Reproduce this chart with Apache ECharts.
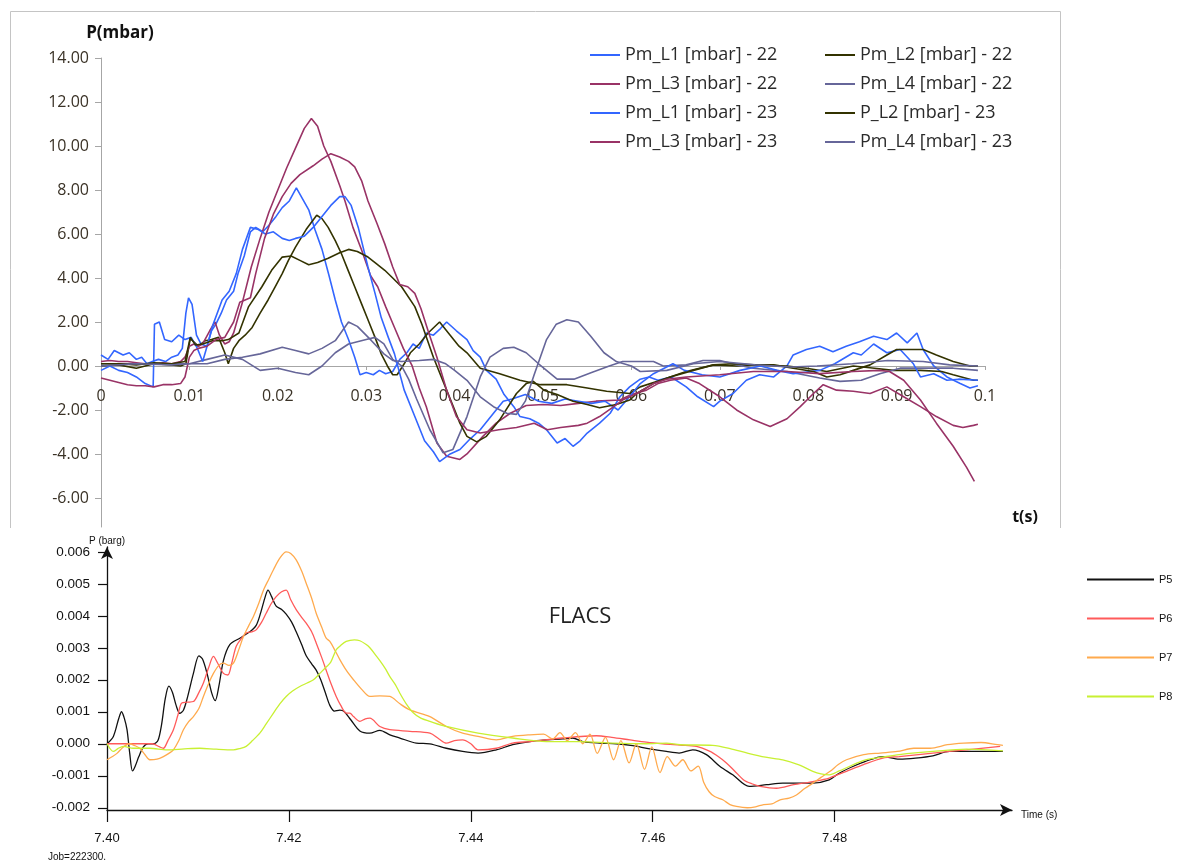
<!DOCTYPE html>
<html>
<head>
<meta charset="utf-8">
<title>Pm_L pressure vs FLACS</title>
<script src="https://cdn.jsdelivr.net/npm/echarts@6/dist/echarts.min.js"></script>
<style>
  html, body { margin: 0; padding: 0; background: #fff; }
  #main { width: 1180px; height: 863px; }
</style>
</head>
<body>
<div id="main"></div>
<script>
    // top chart: measured pressure, [t in ms, p in mbar]
    var topXTicks = [0, 0.01, 0.02, 0.03, 0.04, 0.05, 0.06, 0.07, 0.08, 0.09, 0.1];
    var topYTicks = [-6, -4, -2, 0, 2, 4, 6, 8, 10, 12, 14];

    var L1_22 = [[0,0.5],[0.8,0.3],[1.5,0.7],[2.5,0.5],[3.2,0.6],[4,0.3],[4.6,0.4],[5.2,0.1],[5.8,0.2],[6.5,0.3],[7.3,0.2],[8,0.4],[8.7,0.5],[9.2,0.8],[9.6,2.4],[9.9,3.1],[10.3,2.8],[10.8,1.4],[11.3,1.0],[12,0.9],[12.5,1.6],[13,1.9],[13.6,2.4],[14.2,3.0],[15,3.4],[15.5,4.2],[16.2,5.0],[16.9,6.1],[17.5,6.3],[18.3,6.1],[19,6.4],[19.8,6.8],[20.5,7.2],[21.3,7.5],[22.1,8.1],[22.8,7.6],[23.5,7.1],[24.2,6.2],[25,5.3],[25.8,4.1],[26.5,3.0],[27.2,2.0],[28,1.2],[28.7,0.4],[29.3,-0.4],[30,-0.3],[30.8,-0.4],[31.5,-0.2],[32.2,-0.35],[33,-0.25],[33.8,0.3],[34.6,0.6],[35.3,1.0],[36,0.8],[36.8,1.5],[37.6,1.4],[38.4,1.7],[39.1,2.0],[40.2,1.6],[41.4,1.2],[42.1,0.7],[42.9,0.4],[43.6,-0.2],[44.7,-0.6],[45.6,-1.3],[46.7,-1.85],[47.4,-2.3],[48.5,-2.4],[49.5,-2.6],[50.4,-2.9],[51.6,-3.5],[52.5,-3.3],[53.4,-3.65],[54.2,-3.4],[55,-3.05],[56.4,-2.6],[57.6,-2.15],[58.7,-1.4],[59.8,-0.95],[61,-0.6],[62,-0.5],[63,-0.65],[64.5,-0.5],[66.2,-0.95],[67.5,-1.4],[69.3,-1.85],[70,-1.6],[71.5,-1.25],[73,-0.65],[74.5,-0.4],[76.1,-0.5],[77.6,0],[78.3,0.5],[79.8,0.75],[81.3,0.9],[82.8,0.65],[84.3,0.9],[85.8,1.1],[87.4,1.35],[88.9,1.2],[90,1.5],[91.2,1.05],[92.3,1.5],[93,0.75],[94.2,0],[95.7,-0.5],[97.2,-0.8],[98.3,-1.0],[99.2,-0.9]];
    var L2_22 = [[0,0],[2,0.05],[4,-0.1],[6,0.1],[8,0.05],[9,0],[9.6,0.1],[10.1,1.25],[11,0.9],[11.8,1.15],[12.5,1.2],[13.3,1.3],[14,0.6],[14.4,0.1],[15,0.8],[15.6,1.15],[16.3,1.4],[17.1,1.75],[18,2.4],[18.9,3.0],[19.7,3.6],[20.5,4.2],[21.2,4.8],[22,5.4],[23.2,6.2],[24.4,6.85],[25,6.7],[25.7,6.3],[26.5,5.7],[27.2,5.1],[28,4.3],[28.7,3.6],[29.5,2.8],[30.2,2.1],[31,1.3],[31.7,0.55],[32.4,0],[33,-0.4],[33.5,-0.4],[34.3,0.1],[35,0.6],[36,1.0],[37,1.5],[38.3,2.0],[39.5,1.4],[40.5,0.9],[41.4,0.6],[42.9,-0.1],[45.1,-0.35],[47.4,-0.65],[49.7,-0.85],[52.7,-0.85],[55,-1.0],[57.2,-1.15],[59.8,-1.25],[61,-0.95],[63.3,-0.65],[66.2,-0.25],[69.3,0.05],[71.9,0],[74,0.05],[77.6,0],[79.8,-0.1],[82.1,-0.25],[85.1,0],[87.5,-0.1],[89.6,-0.2],[92.7,-0.2],[95.1,-0.25],[96.4,-0.4],[98.7,-0.65],[99.2,-0.65]];
    var L3_22 = [[0,0.2],[1,0.25],[2,0.2],[3,0.2],[4,0.15],[5,0.1],[6,0.1],[7,0.15],[8,0.1],[9,0.2],[9.5,0.4],[10,0.9],[10.5,1.0],[11,0.9],[11.5,1.0],[12.3,1.6],[12.9,2.0],[13.4,1.4],[14,1.0],[14.5,1.1],[15,1.5],[16,2.9],[17,4.5],[18,5.8],[19,7.0],[20,8.0],[21,9.0],[22,9.9],[23,10.8],[23.8,11.25],[24.5,10.9],[25.2,10.0],[26,9.3],[27,8.2],[27.6,7.5],[28.5,6.3],[29.5,5.25],[30.5,4.1],[31.3,3.6],[32.2,2.7],[33.2,1.75],[34.2,0.8],[35.2,0],[36,-1.0],[36.8,-1.85],[38,-3.5],[39.1,-4.1],[40.6,-4.25],[41.4,-4.0],[43.2,-3.2],[44.7,-2.6],[46.3,-2.15],[48.1,-1.8],[50,-1.75],[52,-1.8],[54,-1.7],[56,-1.6],[58.7,-1.55],[60,-1.3],[61.7,-1.1],[63,-0.8],[64.4,-0.65],[66.2,-0.55],[67.7,-0.8],[70,-1.4],[71.9,-2.0],[73.8,-2.45],[75.7,-2.75],[77.6,-2.4],[79.1,-1.85],[80.6,-1.25],[81.7,-0.85],[83.2,-1.1],[85.1,-1.15],[87,-1.25],[88.9,-0.95],[90.8,-1.4],[92.7,-1.85],[94.5,-2.3],[96.4,-2.7],[97.5,-2.8],[98.7,-2.7],[99.2,-2.65]];
    var L4_22 = [[0,0.1],[4,0.1],[8,0.1],[10,0.1],[12,0.3],[14,0.5],[16,0.3],[18,-0.2],[20,-0.1],[22,-0.3],[23.5,-0.4],[25,0],[26.5,0.6],[28,1.0],[30,1.2],[31,1.3],[32,1.0],[33,0.3],[34,0],[34.8,-0.6],[35.7,-1.5],[37.2,-2.9],[38.7,-3.95],[39.8,-3.8],[41.4,-2.3],[42.9,-0.5],[44,0.4],[45.5,0.8],[46.7,0.85],[48.1,0.6],[49.5,0.1],[51.6,-0.6],[53.5,-0.6],[55.5,-0.3],[57.5,0],[59,0.2],[62.5,0.2],[63.6,0],[66.2,0.05],[68.1,0.25],[70,0.25],[72,0.05],[73.8,-0.1],[77.6,-0.25],[81.3,-0.55],[83.6,-0.7],[86,-0.65],[88.1,-0.35],[90.4,-0.1],[93,-0.1],[96.4,-0.1],[99.2,-0.2]];
    var L1_23 = [[0,-0.2],[1,0],[2,-0.2],[3,-0.3],[4,-0.5],[5,-0.8],[5.9,-0.95],[6.05,1.9],[6.6,2.0],[7.2,1.2],[8,1.1],[8.8,1.4],[9.5,1.2],[10.2,1.3],[10.9,0.8],[11.5,0.2],[12,0.9],[12.6,1.8],[13.7,3.0],[14.5,3.4],[15.3,4.2],[16,5.3],[16.9,6.3],[17.8,6.2],[18.6,6.0],[19.5,6.1],[20.5,5.8],[21.3,5.7],[22,5.8],[23,5.9],[24,6.3],[25,6.8],[26,7.3],[27,7.7],[27.6,7.7],[28.3,7.3],[29.1,6.3],[30.2,4.5],[31,3.3],[31.7,2.2],[32.5,1.3],[33.2,0.55],[34.3,-1.1],[35.5,-2.3],[36.6,-3.4],[37.6,-3.9],[38.3,-4.35],[39.5,-4.0],[40.6,-3.8],[41.8,-3.3],[42.9,-2.9],[44.4,-2.15],[45.5,-1.6],[46.5,-1.5],[48,-1.3],[49.5,-1.6],[51,-1.7],[52.5,-1.5],[54,-1.6],[55.5,-1.7],[57,-1.6],[58.5,-2.0],[60,-1.3],[61,-0.8],[62.5,-0.35],[64.7,0.1],[66,-0.2],[68,-0.4],[70,-0.5],[72.3,-0.2],[74.6,0],[76.5,-0.2],[78.3,-0.35],[81.3,-0.2],[83,0.1],[85.1,0.6],[86,0.5],[87.4,1.0],[88.9,0.6],[90.4,0.75],[91.9,0.1],[92.7,-0.5],[94.2,-0.35],[95.7,-0.65],[97,-0.6],[99.2,-0.65]];
    var L2_23 = [[0,0.1],[2,0.1],[4,0.05],[6,0.15],[8,0.1],[9.5,0.2],[10.1,1.3],[10.7,0.95],[11.5,1.0],[12.6,1.15],[13.7,1.15],[14.4,1.2],[15.6,1.5],[16.7,2.7],[18.2,3.6],[19.3,4.35],[20.5,4.95],[21.5,5.0],[22.5,4.8],[23.5,4.6],[24.5,4.7],[25.7,4.9],[27,5.15],[28,5.3],[29,5.2],[30.2,4.95],[31,4.7],[32.1,4.35],[33,4.0],[34,3.6],[35.5,2.7],[36.3,1.9],[37.6,0.4],[39.1,-1.1],[40.6,-2.6],[41.4,-3.2],[42.5,-3.45],[43.6,-3.2],[45.1,-2.45],[47,-1.25],[48.1,-0.8],[48.9,-0.7],[50.1,-1.1],[51.6,-1.3],[53.4,-1.6],[55,-1.75],[56.4,-1.9],[58.3,-1.75],[59.8,-1.55],[60.6,-1.25],[62.5,-0.8],[64.4,-0.5],[67,-0.2],[69.3,0.05],[71.5,0.1],[73.8,0.05],[76.1,0.05],[78.3,-0.1],[80.6,-0.25],[82.1,-0.5],[83.6,-0.4],[85.1,-0.2],[87,0.05],[88.9,0.5],[90,0.75],[91.5,0.75],[93,0.75],[94.5,0.5],[96.4,0.2],[98.3,0],[99.2,0]];
    var L3_23 = [[0,-0.55],[1,-0.65],[2,-0.75],[3,-0.85],[4,-0.9],[5,-0.9],[6,-0.95],[7,-0.85],[8,-0.85],[9,-0.8],[9.5,-0.5],[10,0.4],[10.5,0.7],[11,0.8],[12,0.9],[13,1.2],[14,1.3],[15,2.0],[15.7,2.9],[16.3,3.0],[16.9,3.1],[17.5,4.2],[18.5,5.8],[19.5,6.9],[20.5,7.7],[21.5,8.3],[22.5,8.7],[24,9.1],[25,9.4],[26,9.65],[27,9.5],[28,9.3],[28.7,9.05],[29.5,8.4],[30.2,7.5],[31.2,6.5],[32.1,5.55],[33,4.5],[33.8,3.7],[34.7,3.6],[35.5,3.3],[36.2,2.6],[37,1.6],[38,0.4],[39.1,-1.1],[40.2,-2.3],[41.4,-2.9],[42.9,-3.05],[45,-2.9],[47,-2.8],[49,-2.6],[50.5,-2.9],[52,-2.8],[54,-2.7],[55,-2.6],[56.4,-2.3],[58,-1.85],[59,-1.55],[60.6,-1.25],[62.5,-0.8],[64,-0.6],[66.2,-0.5],[70,-0.4],[73.8,-0.25],[77.6,-0.25],[81.3,-0.35],[85.1,-0.25],[88.1,-0.2],[89.2,-0.25],[90.8,-0.65],[92.7,-1.55],[94.5,-2.6],[96.4,-3.65],[97.9,-4.6],[98.8,-5.25]];
    var L4_23 = [[0,0],[4,0.1],[8,0.05],[10,0.1],[12,0.1],[14,0.3],[16,0.4],[18,0.55],[20.5,0.85],[22,0.7],[23.5,0.55],[25,0.8],[26.5,1.15],[28,2.0],[29,1.8],[30.6,1.15],[32,0.55],[33,0.25],[34,0.2],[36,0.25],[37.6,0.3],[39,0.1],[40,-0.2],[41.4,-0.65],[42.9,-1.4],[44.4,-1.85],[45.9,-2.15],[47,-2.2],[48,-1.6],[49,-0.4],[50.4,1.2],[51.5,1.9],[52.7,2.1],[54,2.0],[55.4,1.35],[56.9,0.6],[58.3,0.2],[60,0],[61,-0.25],[64,-0.2],[67,0.1],[70,0.2],[74,0.05],[78,-0.05],[81,0],[85,0.1],[89,0.25],[93,0.2],[96,0.05],[99.2,0]];

    // bottom chart: FLACS, [ms after 7.40 s, p in 0.001 barg]
    var flacsT0 = 7.40;
    var flacsXTicks = [7.40, 7.42, 7.44, 7.46, 7.48];
    var flacsYTicks = [-0.002, -0.001, 0, 0.001, 0.002, 0.003, 0.004, 0.005, 0.006];

    var P5 = [[0,0],[0.7,0.23],[1.3,0.8],[1.6,1.0],[1.9,0.8],[2.2,0.44],[2.5,-0.3],[2.8,-0.85],[3.1,-0.7],[3.5,-0.4],[4,-0.1],[4.5,0],[5.1,0],[5.6,0.1],[6,0.6],[6.4,1.4],[6.8,1.8],[7.2,1.6],[7.6,1.2],[8,0.95],[8.4,1.05],[8.8,1.4],[9.5,2.2],[10.1,2.75],[10.5,2.65],[11,2.2],[11.5,1.6],[11.9,1.35],[12.3,1.8],[12.8,2.6],[13.5,3.1],[14.6,3.3],[15.7,3.5],[16.4,3.7],[16.9,4.1],[17.4,4.6],[17.7,4.8],[18.1,4.6],[18.6,4.3],[19.2,4.2],[19.7,4.05],[20.3,3.8],[20.8,3.5],[21.4,3.1],[21.9,2.75],[22.5,2.5],[23,2.3],[23.5,2.0],[24,1.6],[24.5,1.2],[25,1.02],[25.6,1.05],[26.1,1.0],[26.8,0.75],[27.8,0.4],[28.9,0.33],[30,0.42],[31.1,0.28],[32.2,0.18],[34,0.02],[35.5,0],[37.3,-0.14],[39.1,-0.24],[40.8,-0.29],[42.8,-0.19],[44.6,-0.03],[46.5,0.07],[48.3,0.12],[50.1,0.15],[51.2,0.18],[52.3,0.07],[54.2,0.02],[56,0],[57.8,-0.06],[59.5,-0.15],[61.5,-0.24],[62.9,-0.29],[64.4,-0.19],[65.9,-0.34],[67.4,-0.71],[68.8,-0.97],[70.6,-1.33],[72.5,-1.28],[74.3,-1.23],[76.1,-1.23],[77.6,-1.23],[79.4,-1.13],[80.5,-0.92],[82,-0.71],[83.4,-0.55],[85.3,-0.4],[87.1,-0.48],[88.9,-0.45],[90.8,-0.38],[92.6,-0.24],[94.5,-0.24],[96.3,-0.24],[98.5,-0.24]];
    var P6 = [[0,0],[2,0],[4,0],[5,0],[5.8,-0.1],[6.2,-0.14],[6.7,0.1],[7.3,0.44],[7.8,0.9],[8.2,1.27],[8.8,1.3],[9.5,1.32],[10.1,1.6],[10.6,1.9],[11.2,2.4],[11.7,2.73],[12.2,2.5],[12.8,2.2],[13.3,2.15],[13.7,2.5],[14.2,3.04],[14.8,3.3],[15.3,3.46],[15.9,3.5],[16.4,3.56],[17,3.8],[17.5,4.08],[18.1,4.4],[18.6,4.6],[19.2,4.75],[19.7,4.8],[20.2,4.5],[20.8,4.19],[21.4,3.95],[21.9,3.77],[22.5,3.5],[23,3.15],[23.6,2.7],[24.1,2.3],[24.6,1.9],[25.2,1.48],[25.7,1.2],[26.3,0.96],[26.7,0.96],[27.1,0.85],[27.8,0.7],[28.4,0.78],[28.9,0.8],[30,0.54],[31.1,0.44],[33.3,0.39],[35.5,0.33],[36.5,0.15],[37.3,0.02],[38.2,0.1],[39.1,0.12],[40,0],[40.8,-0.19],[42.8,-0.14],[44.6,0.02],[46.5,0.07],[50.1,0.18],[53.8,0.25],[55.5,0.2],[57.5,0.12],[59.3,0.05],[61.1,0],[63,-0.04],[64.8,-0.08],[66.3,-0.24],[67.2,-0.4],[68.1,-0.6],[69,-0.85],[70,-1.13],[70.9,-1.25],[71.8,-1.33],[73.6,-1.39],[75.5,-1.28],[77.6,-1.18],[79.4,-1.07],[81.3,-0.86],[83.1,-0.66],[85.3,-0.45],[87.1,-0.4],[90.8,-0.29],[94.5,-0.19],[98.2,-0.08]];
    var P7 = [[0,-0.5],[0.6,-0.4],[1.1,-0.3],[1.8,-0.1],[2.5,0],[3,-0.05],[3.6,-0.14],[4.2,-0.35],[4.7,-0.5],[5.5,-0.48],[6.2,-0.4],[6.8,-0.3],[7.3,-0.19],[7.9,0.1],[8.4,0.44],[9,0.7],[9.5,0.85],[10.1,1.1],[10.6,1.48],[11.2,1.9],[11.7,2.2],[12.3,2.45],[12.8,2.52],[13.4,2.45],[13.9,2.52],[14.5,2.95],[15,3.35],[15.6,3.7],[16.1,3.98],[16.7,4.4],[17.2,4.8],[17.8,5.15],[18.3,5.44],[19,5.8],[19.7,6.0],[20.2,5.95],[20.8,5.75],[21.4,5.4],[21.9,5.02],[22.5,4.55],[23,4.08],[23.6,3.65],[24.1,3.3],[24.5,3.2],[25.1,2.9],[25.6,2.63],[26.3,2.3],[27.1,2.0],[28,1.7],[28.9,1.48],[30,1.5],[31.1,1.48],[32.2,1.25],[33.3,1.06],[35.5,0.85],[37.3,0.54],[39.1,0.33],[40.8,0.23],[42.8,0.12],[44.6,0.23],[46.5,0.28],[48,0.3],[49,0.15],[49.8,0.35],[50.6,0.1],[51.5,0.35],[52.3,0],[53.1,0.3],[53.9,-0.3],[54.8,0.2],[55.7,-0.5],[56.5,0.1],[57.4,-0.6],[58.2,0],[59.1,-0.8],[59.9,-0.1],[60.8,-0.9],[61.6,-0.4],[62.5,-0.7],[63.3,-0.5],[64.2,-0.85],[65,-0.7],[65.6,-1.2],[66.2,-1.5],[66.8,-1.65],[67.7,-1.75],[68.5,-1.9],[69.2,-1.96],[70.4,-2.0],[71.3,-1.97],[72.2,-1.9],[73.1,-1.88],[74,-1.75],[75,-1.7],[75.8,-1.6],[76.7,-1.4],[77.6,-1.23],[78.5,-1.05],[79.5,-0.86],[80.4,-0.65],[81.3,-0.5],[83.2,-0.34],[85,-0.29],[86.9,-0.24],[88.7,-0.14],[90.5,-0.14],[92.4,-0.03],[94.2,0.02],[96.1,0.04],[97.9,-0.03],[98.5,-0.05]];
    var P8 = [[0,0],[0.7,-0.24],[1.2,-0.15],[1.8,-0.08],[2.9,-0.14],[4.7,-0.14],[6.6,-0.19],[8.5,-0.16],[10.2,-0.14],[12,-0.17],[13.9,-0.19],[14.6,-0.15],[15.3,-0.08],[16,0.1],[16.8,0.33],[17.5,0.62],[18.3,0.96],[19,1.25],[19.7,1.48],[20.4,1.65],[21.2,1.79],[22,1.9],[22.7,2.0],[23.4,2.2],[24.1,2.4],[24.6,2.55],[25.2,2.94],[25.6,3.05],[26.3,3.2],[27.2,3.25],[27.8,3.22],[28.5,3.1],[28.9,3.0],[29.6,2.75],[30,2.6],[30.6,2.35],[31.1,2.1],[31.7,1.85],[32.2,1.58],[32.9,1.25],[33.7,0.96],[34.5,0.8],[35.5,0.7],[37.3,0.54],[40.8,0.33],[44.6,0.18],[48.3,0.07],[52,0.07],[55.6,0.02],[59.3,0],[61.5,0.02],[63,-0.03],[66.6,-0.05],[68.5,-0.15],[70.5,-0.3],[72.4,-0.42],[74.3,-0.5],[76,-0.65],[77.6,-0.86],[78.5,-0.94],[79.4,-0.97],[80.5,-0.85],[81.6,-0.71],[82.5,-0.6],[83.4,-0.5],[85.2,-0.42],[87.1,-0.34],[90.8,-0.24],[94.5,-0.17],[98.5,-0.22]];

    var topNames = ['Pm_L1 [mbar] - 22', 'Pm_L2 [mbar] - 22', 'Pm_L3 [mbar] - 22', 'Pm_L4 [mbar] - 22',
                    'Pm_L1 [mbar] - 23', 'P_L2 [mbar] - 23', 'Pm_L3 [mbar] - 23', 'Pm_L4 [mbar] - 23'];
    var topData = [L1_22, L2_22, L3_22, L4_22, L1_23, L2_23, L3_23, L4_23];
    var topColors = ['#3366ff', '#333300', '#993366', '#666699', '#3366ff', '#333300', '#993366', '#666699'];

    var flacsNames = ['P5', 'P6', 'P7', 'P8'];
    var flacsData = [P5, P6, P7, P8];
    var flacsColors = ['#111111', '#ff5a5a', '#ffaa4d', '#c8f032'];

    /*ms -> s, and thousandths of barg -> barg*/
    function msToSec(list, t0) {
        return list.map(function (d) { return [t0 + d[0] / 1000, d[1]]; });
    }
    function flacsPoints(list) {
        return list.map(function (d) { return [flacsT0 + d[0] / 1000, d[1] / 1000]; });
    }

    var series = [];
    topData.forEach(function (d, i) {
        series.push({
            name: topNames[i], type: 'line', xAxisIndex: 0, yAxisIndex: 0,
            data: msToSec(d, 0), symbol: 'none', smooth: false,
            lineStyle: {width: 1.6, color: topColors[i]}, itemStyle: {color: topColors[i]}
        });
    });
    flacsData.forEach(function (d, i) {
        series.push({
            name: flacsNames[i], type: 'line', xAxisIndex: 1, yAxisIndex: 1,
            data: flacsPoints(d), symbol: 'none', smooth: 0.3,
            lineStyle: {width: 1.3, color: flacsColors[i]}, itemStyle: {color: flacsColors[i]}
        });
    });

    /*legend icons: plain lines, no marker*/
    var lineIcon = 'path://M0,0 L30,0 L30,2 L0,2 Z';
    var longLineIcon = 'path://M0,0 L67,0 L67,2 L0,2 Z';
    var legendTop = {
        orient: 'vertical', padding: 0, icon: lineIcon, itemWidth: 30, itemHeight: 2, itemGap: 11,
        textStyle: {fontSize: 18, color: '#2a2a2a', fontFamily: 'Open Sans'}
    };

    var myChart = echarts.init(document.getElementById('main'), null, {renderer: 'canvas'});
    var option = {
        animation: false,
        backgroundColor: '#ffffff',
        grid: [
            {left: 101, right: 195, top: 58, bottom: 336},
            {left: 107, right: 168, top: 547, bottom: 53}
        ],
        legend: [
            Object.assign({left: 590, top: 46, data: [topNames[0], topNames[2], topNames[4], topNames[6]]}, legendTop),
            Object.assign({left: 825, top: 46, data: [topNames[1], topNames[3], topNames[5], topNames[7]]}, legendTop),
            {
                orient: 'vertical', left: 1087, top: 574, padding: 0, icon: longLineIcon,
                itemWidth: 67, itemHeight: 2, itemGap: 28,
                data: flacsNames,
                textStyle: {fontSize: 11, color: '#111', fontFamily: 'Liberation Sans'}
            }
        ],
        xAxis: [
            {
                // labels sit under the zero line, as in the spreadsheet chart
                type: 'value', gridIndex: 0, min: 0, max: 0.1, interval: 0.01,
                position: 'bottom', offset: -161,
                axisLine: {onZero: false, lineStyle: {color: '#a6a6a6', width: 1}},
                axisTick: {show: true, length: 4, lineStyle: {color: '#a6a6a6'}},
                axisLabel: {
                    margin: 22, fontSize: 16, color: '#3a3226', fontFamily: 'Open Sans',
                    formatter: function (v) { return String(+v.toFixed(2)); }
                },
                splitLine: {show: false}
            },
            {
                type: 'value', gridIndex: 1, min: 7.40, max: 7.4995,
                axisLine: {onZero: false, symbol: ['none', 'arrow'], symbolSize: [9, 12], lineStyle: {color: '#111', width: 1.3}},
                axisTick: {show: true, length: 12, customValues: flacsXTicks, lineStyle: {color: '#111', width: 1.2}},
                axisLabel: {
                    margin: 22, fontSize: 13, color: '#111', fontFamily: 'Liberation Sans',
                    customValues: flacsXTicks,
                    formatter: function (v) { return v.toFixed(2); }
                },
                splitLine: {show: false}
            }
        ],
        yAxis: [
            {
                type: 'value', gridIndex: 0, min: -7.32, max: 14,
                axisLine: {show: true, lineStyle: {color: '#a6a6a6', width: 1}},
                axisTick: {show: true, length: 6, customValues: topYTicks, lineStyle: {color: '#a6a6a6'}},
                axisLabel: {
                    margin: 12, fontSize: 16, color: '#3a3226', fontFamily: 'Open Sans',
                    customValues: topYTicks,
                    formatter: function (v) { return v.toFixed(2); }
                },
                splitLine: {show: false}
            },
            {
                type: 'value', gridIndex: 1, min: -0.00207, max: 0.00615,
                axisLine: {show: true, onZero: false, symbol: ['none', 'arrow'], symbolSize: [9, 12], lineStyle: {color: '#111', width: 1.3}},
                axisTick: {show: true, length: 9, customValues: flacsYTicks, lineStyle: {color: '#111', width: 1.2}},
                axisLabel: {
                    margin: 17, fontSize: 13.5, color: '#111', fontFamily: 'Liberation Sans',
                    customValues: flacsYTicks,
                    formatter: function (v) { return v.toFixed(3); }
                },
                splitLine: {show: false}
            }
        ],
        graphic: [
            {
                type: 'polyline', silent: true, z: 0,
                shape: {points: [[10.5, 528], [10.5, 11.5], [1060.5, 11.5], [1060.5, 528]]},
                style: {stroke: '#c4c4c4', fill: null, lineWidth: 1}
            },
            {type: 'text', x: 120, y: 33, style: {text: 'P(mbar)', fontSize: 17, fontWeight: 'bold', fontFamily: 'Open Sans', fill: '#111', textAlign: 'center', textVerticalAlign: 'middle'}},
            {type: 'text', x: 1025, y: 517, style: {text: 't(s)', fontSize: 16, fontWeight: 'bold', fontFamily: 'Open Sans', fill: '#111', textAlign: 'center', textVerticalAlign: 'middle'}},
            {type: 'text', x: 107, y: 541, style: {text: 'P (barg)', fontSize: 10, fontFamily: 'Liberation Sans', fill: '#111', textAlign: 'center', textVerticalAlign: 'middle'}},
            {type: 'text', x: 1021, y: 815, style: {text: 'Time (s)', fontSize: 10, fontFamily: 'Liberation Sans', fill: '#111', textAlign: 'left', textVerticalAlign: 'middle'}},
            {type: 'text', x: 580, y: 617, style: {text: 'FLACS', fontSize: 22, fontFamily: 'Open Sans', fill: '#222', textAlign: 'center', textVerticalAlign: 'middle'}},
            {type: 'text', x: 48, y: 857, style: {text: 'Job=222300.', fontSize: 10, fontFamily: 'Liberation Sans', fill: '#111', textAlign: 'left', textVerticalAlign: 'middle'}}
        ],
        series: series
    };
    myChart.setOption(option);
</script>
</body>
</html>
